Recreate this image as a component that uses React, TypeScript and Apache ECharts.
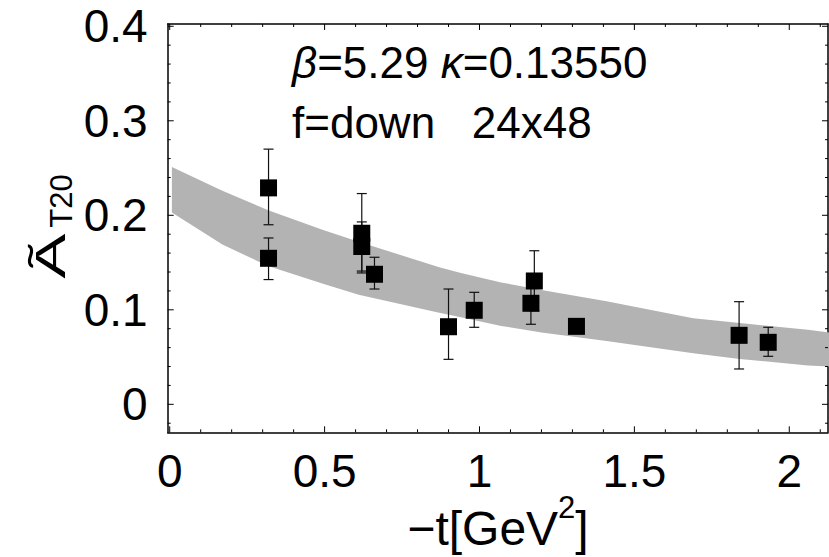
import React, { useEffect, useRef } from 'react';
import * as echarts from 'echarts';

// data points (x = -t, y = A_T20) with error ranges
const pointX = [0.319, 0.319, 0.62, 0.62, 0.661, 0.9, 0.983, 1.166, 1.177, 1.313, 1.838, 1.932];
const pointY = [0.229, 0.1545, 0.181, 0.167, 0.1376, 0.0821, 0.0995, 0.1069, 0.1305, 0.0825, 0.073, 0.0656];
const errLow = [0.19, 0.132, 0.139, 0.141, 0.122, 0.0476, 0.0815, 0.0847, 0.099, 0.079, 0.0374, 0.0508];
const errHigh = [0.27, 0.176, 0.223, 0.193, 0.1556, 0.122, 0.1185, 0.129, 0.1625, 0.086, 0.1086, 0.0815];

// fit band
const bandX = [0.007, 0.17, 0.32, 0.5, 0.61, 0.87, 0.94, 1.07, 1.2, 1.41, 1.69, 1.84, 2.06, 2.13];
const bandUpper = [0.251, 0.226, 0.205, 0.184, 0.172, 0.145, 0.139, 0.129, 0.121, 0.109, 0.091, 0.086, 0.079, 0.076];
const bandLower = [0.203, 0.169, 0.146, 0.127, 0.116, 0.097, 0.092, 0.083, 0.076, 0.067, 0.054, 0.048, 0.041, 0.04];

// ticks
const xMajor = [0, 0.5, 1, 1.5, 2];
const xMinor = [0.1, 0.2, 0.3, 0.4, 0.6, 0.7, 0.8, 0.9, 1.1, 1.2, 1.3, 1.4, 1.6, 1.7, 1.8, 1.9, 2.1];
const yMajor = [0, 0.1, 0.2, 0.3, 0.4];
const yMinor = [-0.02, 0.02, 0.04, 0.06, 0.08, 0.12, 0.14, 0.16, 0.18, 0.22, 0.24, 0.26, 0.28, 0.32, 0.34, 0.36, 0.38];

const X_MIN = -0.0065;
const X_MAX = 2.125;
const Y_MIN = -0.0296;
const Y_MAX = 0.4024;

const FONT = 'Liberation Sans, Arial, sans-serif';
const MAJOR_LEN = 6;
const MINOR_LEN = 3;

function mkX(position: 'top' | 'bottom', labels: boolean) {
  return {
    type: 'value',
    position,
    min: X_MIN,
    max: X_MAX,
    axisLine: { show: true, onZero: false, lineStyle: { color: '#000', width: 1.5 } },
    axisTick: { show: false },
    axisLabel: labels
      ? { show: true, customValues: xMajor, fontSize: 46, color: '#000', fontFamily: FONT, margin: 16 }
      : { show: false },
    splitLine: { show: false },
  };
}

function mkY(position: 'left' | 'right', labels: boolean) {
  return {
    type: 'value',
    position,
    min: Y_MIN,
    max: Y_MAX,
    axisLine: { show: true, onZero: false, lineStyle: { color: '#000', width: 1.5 } },
    axisTick: { show: false },
    axisLabel: labels
      ? { show: true, customValues: yMajor, fontSize: 46, color: '#000', fontFamily: FONT, margin: 20 }
      : { show: false },
    splitLine: { show: false },
  };
}

export default function App() {
  const ref = useRef<HTMLDivElement>(null);
  useEffect(() => {
    if (!ref.current) return;
    const chart = echarts.init(ref.current, undefined, { renderer: 'svg' });
    const pts = pointX.map((x, i) => [x, pointY[i]]);
    const errs = pointX.map((x, i) => [x, pointY[i], errLow[i], errHigh[i]]);
    const bandData = bandX.map((x, i) => [x, bandLower[i], bandUpper[i]]);
    // tick items: [value, side(0 bottom,1 top,2 left,3 right), length]
    const tickData: number[][] = [];
    for (const side of [0, 1]) {
      xMajor.forEach((v) => tickData.push([v, side, MAJOR_LEN]));
      xMinor.forEach((v) => tickData.push([v, side, MINOR_LEN]));
    }
    for (const side of [2, 3]) {
      yMajor.forEach((v) => tickData.push([v, side, MAJOR_LEN]));
      yMinor.forEach((v) => tickData.push([v, side, MINOR_LEN]));
    }
    chart.setOption({
      animation: false,
      backgroundColor: '#fff',
      grid: { left: 167.7, top: 24, right: 1, bottom: 124.7, containLabel: false },
      xAxis: [mkX('bottom', true), mkX('top', false)],
      yAxis: [mkY('left', true), mkY('right', false)],
      series: [
        {
          type: 'custom',
          data: bandData,
          encode: { x: 0, y: [1, 2] },
          clip: true,
          z: 1,
          silent: true,
          renderItem: (params: any, api: any) => {
            if (params.dataIndex !== 0) return null;
            const pts: number[][] = [];
            for (let i = 0; i < bandX.length; i++) pts.push(api.coord([bandX[i], bandUpper[i]]));
            for (let i = bandX.length - 1; i >= 0; i--) pts.push(api.coord([bandX[i], bandLower[i]]));
            return {
              type: 'polygon',
              shape: { points: pts },
              style: { fill: '#b3b3b3', stroke: 'none' },
            };
          },
        },
        {
          type: 'custom',
          data: errs,
          encode: { x: 0, y: [2, 3] },
          z: 3,
          renderItem: (params: any, api: any) => {
            const x = api.value(0);
            const lo = api.value(2);
            const hi = api.value(3);
            const p1 = api.coord([x, hi]);
            const p2 = api.coord([x, lo]);
            const w = 5;
            const style = { stroke: '#111', lineWidth: 1.2 };
            return {
              type: 'group',
              children: [
                { type: 'line', shape: { x1: p1[0], y1: p1[1], x2: p2[0], y2: p2[1] }, style },
                { type: 'line', shape: { x1: p1[0] - w, y1: p1[1], x2: p1[0] + w, y2: p1[1] }, style },
                { type: 'line', shape: { x1: p2[0] - w, y1: p2[1], x2: p2[0] + w, y2: p2[1] }, style },
              ],
            };
          },
        },
        {
          type: 'scatter',
          data: pts,
          symbol: 'rect',
          symbolSize: 17,
          itemStyle: { color: '#000', opacity: 1 },
          z: 4,
        },
        {
          type: 'custom',
          data: tickData,
          encode: { x: 0 },
          clip: false,
          silent: true,
          z: 5,
          renderItem: (params: any, api: any) => {
            const v = api.value(0);
            const side = api.value(1);
            const len = api.value(2);
            const cs = params.coordSys;
            const style = { stroke: '#000', lineWidth: 1 };
            if (side === 0 || side === 1) {
              const px = api.coord([v, 0])[0];
              const yb = side === 0 ? cs.y + cs.height : cs.y;
              const y2 = side === 0 ? yb - len : yb + len;
              return { type: 'line', shape: { x1: px, y1: yb, x2: px, y2 }, style };
            }
            const py = api.coord([0, v])[1];
            const xb = side === 2 ? cs.x : cs.x + cs.width;
            const x2 = side === 2 ? xb + len : xb - len;
            return { type: 'line', shape: { x1: xb, y1: py, x2, y2: py }, style };
          },
        },
      ],
      graphic: [
        {
          type: 'text',
          x: 292,
          y: 62,
          z: 10,
          style: {
            text: '{g|β}{n|=5.29 }{g|κ}{n|=0.13550}',
            verticalAlign: 'middle',
            align: 'left',
            rich: {
              g: { fontSize: 44, fontFamily: FONT, fontStyle: 'italic', fill: '#000' },
              n: { fontSize: 44, fontFamily: FONT, fill: '#000' },
            },
          },
        },
        {
          type: 'text',
          x: 292,
          y: 122,
          z: 10,
          style: {
            text: 'f=down   24x48',
            fontSize: 44,
            fontFamily: FONT,
            fill: '#000',
            verticalAlign: 'middle',
            align: 'left',
          },
        },
        {
          type: 'text',
          x: 498,
          y: 528,
          z: 10,
          style: {
            text: '{a|−t[GeV}{b|2}{a|]}',
            align: 'center',
            verticalAlign: 'middle',
            rich: {
              a: { fontSize: 48, lineHeight: 72, fontFamily: FONT, fill: '#000' },
              b: { fontSize: 31, lineHeight: 31, verticalAlign: 'top', fontFamily: FONT, fill: '#000' },
            },
          },
        },
        {
          type: 'text',
          x: 50,
          y: 256,
          z: 10,
          rotation: Math.PI / 2,
          scaleX: 1.6,
          style: {
            text: 'Ã',
            fontSize: 42,
            fontFamily: FONT,
            fill: '#000',
            align: 'center',
            verticalAlign: 'middle',
          },
        },
        {
          type: 'text',
          x: 61,
          y: 201,
          z: 10,
          rotation: Math.PI / 2,
          style: {
            text: 'T20',
            fontSize: 31,
            fontFamily: FONT,
            fill: '#000',
            align: 'center',
            verticalAlign: 'middle',
          },
        },
      ],
    });
    return () => chart.dispose();
  }, []);
  return (
    <div
      ref={ref}
      style={{ position: 'absolute', left: 0, top: 0, width: 829, height: 557, background: '#fff' }}
    />
  );
}
